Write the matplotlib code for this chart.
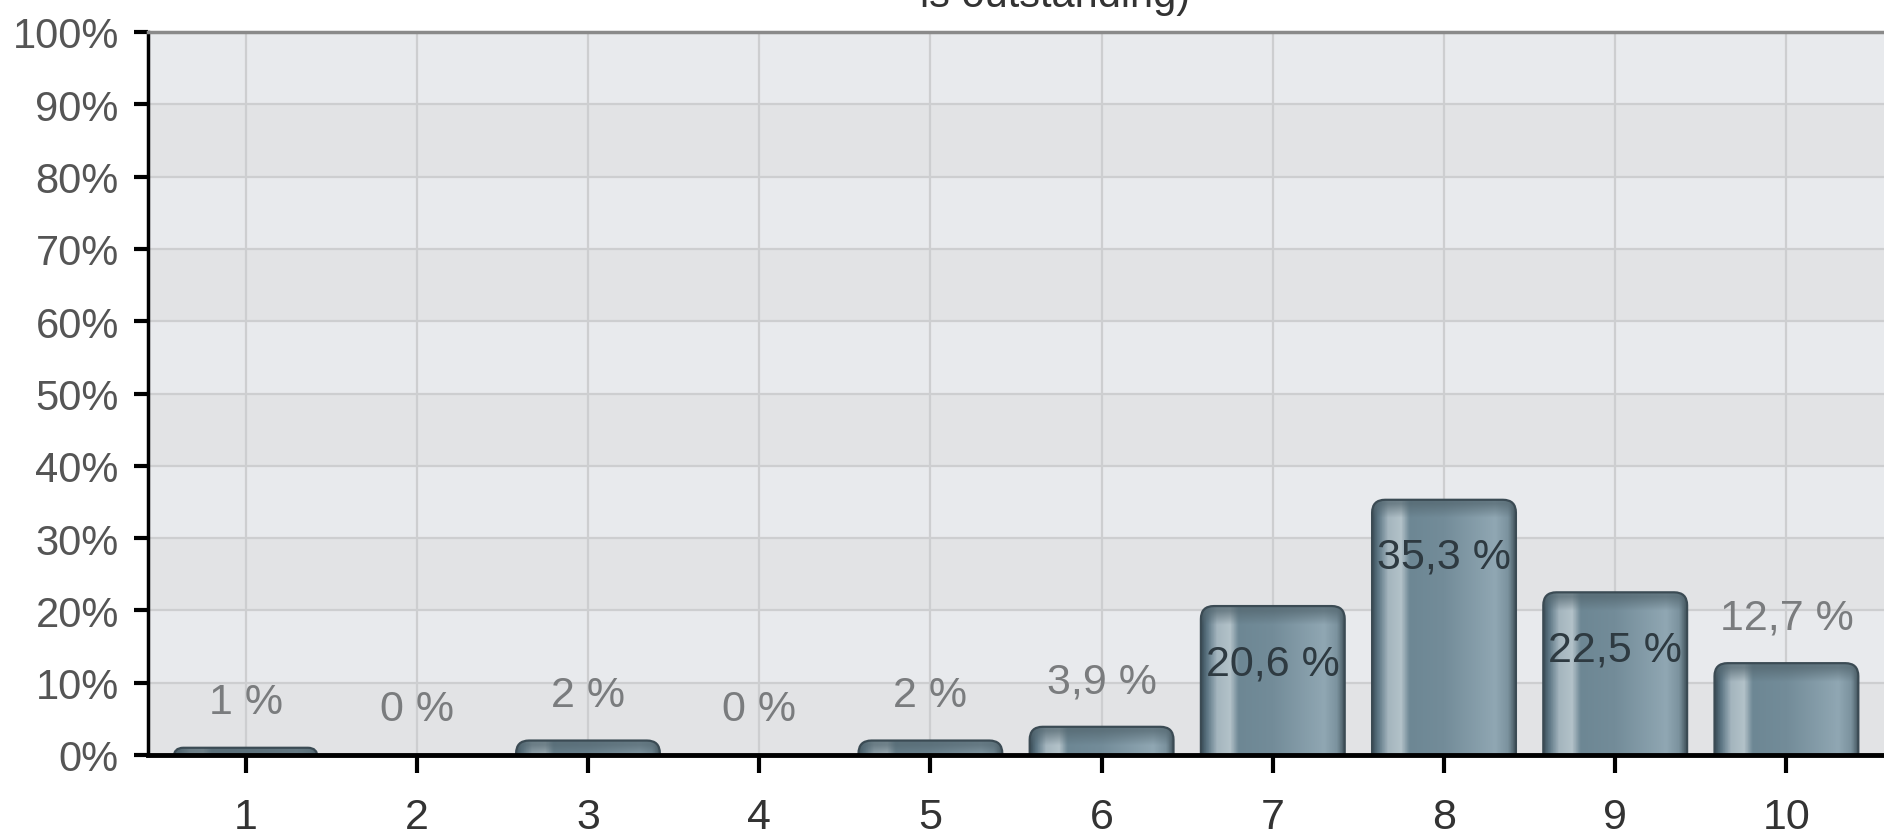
import matplotlib.pyplot as plt
import numpy as np
from matplotlib.colors import LinearSegmentedColormap, to_rgb
from matplotlib.patches import FancyBboxPatch

# ratings and share of answers (%)
ratings = ['1', '2', '3', '4', '5', '6', '7', '8', '9', '10']
shares = [1.0, 0.0, 2.0, 0.0, 2.0, 3.9, 20.6, 35.3, 22.5, 12.7]
labels = ['1 %', '0 %', '2 %', '0 %', '2 %', '3,9 %', '20,6 %', '35,3 %', '22,5 %', '12,7 %']
y_ticks = [0, 10, 20, 30, 40, 50, 60, 70, 80, 90, 100]

plt.rcParams['font.family'] = ['Liberation Sans', 'DejaVu Sans']

W, H = 1884, 837
fig = plt.figure(figsize=(W / 100, H / 100), dpi=100)
ax_l, ax_b, ax_t = 148, 756, 33
ax = fig.add_axes([ax_l / W, 1 - ax_b / H, 1 - ax_l / W, (ax_b - ax_t) / H])

x = np.arange(1, len(ratings) + 1)
xlim = (0.43, 10.57)
ylim = (0, 100)
px_x = (W - ax_l) / (xlim[1] - xlim[0])
px_y = (ax_b - ax_t) / (ylim[1] - ylim[0])

# alternating background bands
for i, lo in enumerate(y_ticks[:-1]):
    ax.axhspan(lo, lo + 10, color='#e2e3e5' if i % 2 == 0 else '#e8eaed', zorder=0, lw=0)
ax.grid(True, color='#cdced0', lw=1.6, zorder=1)
ax.set_axisbelow(True)

# cylinder-like shading across a bar
shade = LinearSegmentedColormap.from_list('bar', [
    (0.00, '#3d505b'), (0.04, '#5d7684'), (0.11, '#a4b5be'), (0.20, '#b3c2c9'),
    (0.26, '#6d8794'), (0.50, '#738c99'), (0.86, '#90a7b3'), (0.95, '#7b929e'),
    (1.00, '#44565f')])
cap = np.array(to_rgb('#53666f'))

w = 0.84
ext_px = 12
for xi, v in zip(x, shares):
    if v <= 0:
        continue
    h_px = v * px_y
    r_px = min(13, (h_px + ext_px) / 2)
    rx = r_px / px_x
    ry = r_px / px_y
    y0 = -ext_px / px_y
    patch = FancyBboxPatch((xi - w / 2, y0), w, v - y0,
                           boxstyle=f'round,pad=0,rounding_size={rx}',
                           mutation_aspect=ry / rx,
                           fc='none', ec='#3b4b54', lw=1.6, zorder=4)
    ax.add_patch(patch)
    rows = max(int(h_px + ext_px), 2)
    cols = shade(np.linspace(0, 1, 200))[:, :3]
    img = np.repeat(cols[None, :, :], rows, axis=0)
    top = np.clip(1.3 - np.arange(rows) / 14.0, 0, 1)[:, None, None]
    img = img * (1 - 0.7 * top) + cap * 0.7 * top
    im = ax.imshow(img, extent=[xi - w / 2, xi + w / 2, y0, v], origin='upper',
                   aspect='auto', interpolation='bilinear', zorder=3)
    im.set_clip_path(patch)

# value labels
for xi, v, lab in zip(x, shares, labels):
    if v >= 20:
        ax.text(xi, v - 7.9, lab, ha='center', va='center', fontsize=31,
                color='#2e3a41', zorder=6)
    else:
        ax.text(xi, v + 6.3, lab, ha='center', va='center', fontsize=31,
                color='#7a7c7e', zorder=6)

ax.set_xlim(*xlim)
ax.set_ylim(*ylim)
ax.set_xticks(x)
ax.set_xticklabels(ratings)
ax.set_yticks(y_ticks)
ax.set_yticklabels([f'{t}%' for t in y_ticks])
ax.tick_params(axis='y', length=10, width=3, pad=11, labelsize=30, labelcolor='#555555')
ax.tick_params(axis='x', length=13, width=3, pad=17, labelsize=31, labelcolor='#333333')

ax.spines['left'].set_linewidth(2.5)
ax.spines['bottom'].set_linewidth(3.5)
ax.spines['bottom'].set_zorder(5)
ax.spines['top'].set_color('#8a8a8a')
ax.spines['top'].set_linewidth(2.5)
ax.spines['right'].set_visible(False)

fig.text(0.56, 1 - 7 / H, 'is outstanding)', ha='center', va='baseline',
         fontsize=30, color='#333333')

fig.savefig('out.png', dpi=100)
